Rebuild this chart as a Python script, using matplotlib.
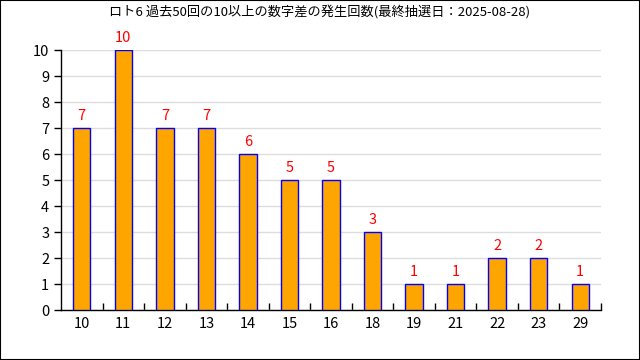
import matplotlib
matplotlib.use('Agg')
import matplotlib.pyplot as plt
from matplotlib.patches import Rectangle

plt.rcParams['font.family'] = ['Noto Sans CJK JP', 'DejaVu Sans']

# datos del grafico
diferencias = ['10', '11', '12', '13', '14', '15', '16', '18', '19', '21', '22', '23', '29']
ocurrencias = [7, 10, 7, 7, 6, 5, 5, 3, 1, 1, 2, 2, 1]
titulo = 'ロト6 過去50回の10以上の数字差の発生回数(最終抽選日：2025-08-28)'

fig = plt.figure(figsize=(6.4, 3.6), dpi=100)
ax = fig.add_axes([61/640, 50/360, 540/640, 260/360])

pos = list(range(len(diferencias)))
ax.bar(pos, ocurrencias, width=0.42, color='#FFA500', edgecolor='#0000FF', linewidth=1, zorder=3)

for x, v in zip(pos, ocurrencias):
    ax.text(x, v + 0.2, str(v), ha='center', va='bottom', color='red', fontsize=10.5)

ax.set_xlim(-0.5, len(diferencias) - 0.5)
ax.set_ylim(0, 10)
ax.set_yticks(range(0, 11))
ax.yaxis.grid(True, color='#dddddd', linewidth=1, zorder=0)
ax.set_axisbelow(True)

# etiquetas del eje x en el centro, marcas entre categorias
ax.set_xticks(pos)
ax.set_xticklabels(diferencias)
ax.tick_params(axis='x', length=0, labelsize=10.5, pad=5)
ax.set_xticks([p + 0.5 for p in pos], minor=True)
ax.tick_params(axis='x', which='minor', direction='in', length=5, width=1)
ax.tick_params(axis='y', direction='out', length=5, width=1, labelsize=10.5)

for lado in ['top', 'right']:
    ax.spines[lado].set_visible(False)
ax.spines['left'].set_linewidth(1)
ax.spines['bottom'].set_linewidth(1)

fig.text(0.5, 1 - 12/360, titulo, ha='center', va='center', fontsize=9.5)
fig.patches.append(Rectangle((0, 0), 1, 1, transform=fig.transFigure,
                             fill=False, edgecolor='black', linewidth=1.5))

fig.savefig('out.png', dpi=100)
